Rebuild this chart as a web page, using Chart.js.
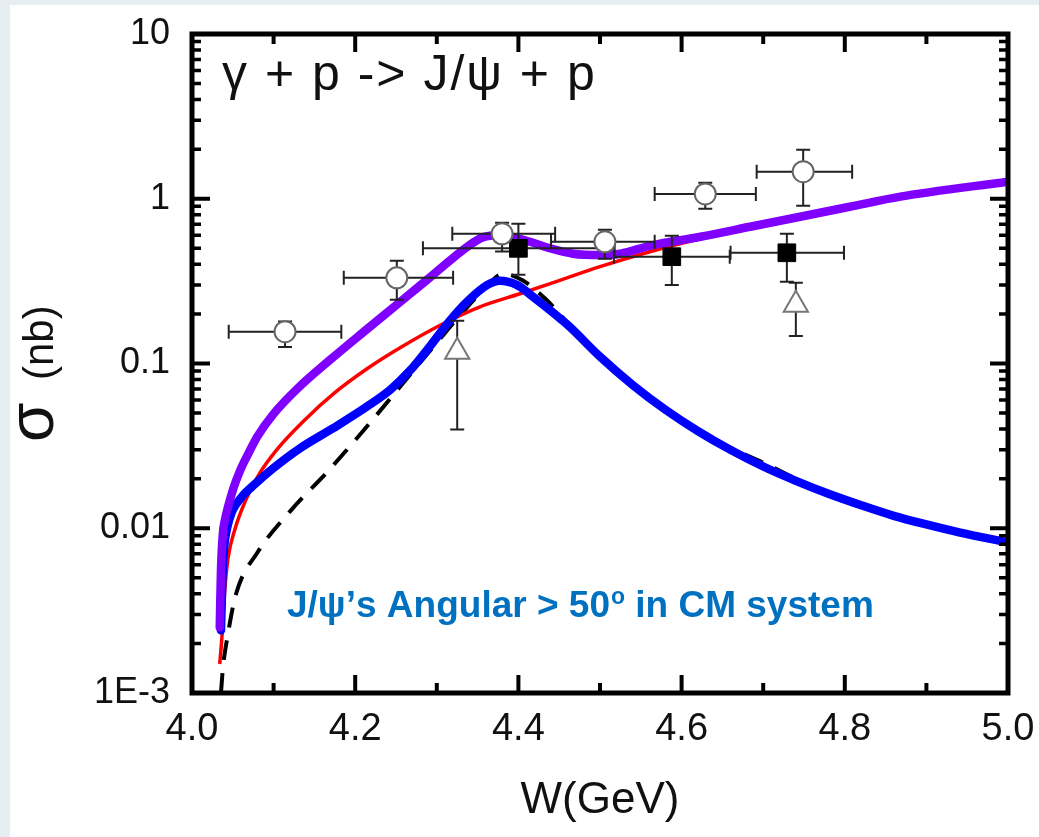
<!DOCTYPE html>
<html>
<head>
<meta charset="utf-8">
<script src="https://cdn.jsdelivr.net/npm/chart.js@4/dist/chart.umd.min.js"></script>
<style>
  html, body { margin: 0; padding: 0; background: #e7eef2; }
  #c { position: absolute; left: 0; top: 0; }
</style>
</head>
<body>
<canvas id="c" width="1039" height="837"></canvas>
<script>
// axis ticks
const xTickVals = [4.0, 4.2, 4.4, 4.6, 4.8, 5.0];
const xTickLabels = ['4.0', '4.2', '4.4', '4.6', '4.8', '5.0'];
const xMinorVals = [4.1, 4.3, 4.5, 4.7, 4.9];
const yTickVals = [0.001, 0.01, 0.1, 1, 10];
const yTickLabels = ['1E-3', '0.01', '0.1', '1', '10'];

// purple curve (total)
const purpleW = [4.034, 4.0355, 4.038, 4.04, 4.05, 4.06, 4.07, 4.08, 4.1, 4.13, 4.17, 4.21, 4.255, 4.295, 4.337, 4.357, 4.377, 4.41, 4.439, 4.467, 4.5, 4.525, 4.561, 4.623, 4.684, 4.806, 4.868, 5.0];
const purpleS = [0.0025, 0.0056, 0.0095, 0.011, 0.017, 0.023, 0.029, 0.036, 0.0495, 0.071, 0.106, 0.155, 0.236, 0.344, 0.51, 0.585, 0.60, 0.556, 0.50, 0.464, 0.455, 0.464, 0.518, 0.588, 0.676, 0.894, 1.03, 1.27];

// blue curve
const blueW = [4.0355, 4.037, 4.039, 4.043, 4.049, 4.061, 4.077, 4.098, 4.132, 4.173, 4.214, 4.243, 4.267, 4.292, 4.316, 4.337, 4.362, 4.377, 4.398, 4.418, 4.46, 4.5, 4.54, 4.58, 4.62, 4.66, 4.70, 4.74, 4.78, 4.82, 4.86, 4.90, 4.94, 5.0];
const blueS = [0.0024, 0.0045, 0.0072, 0.01, 0.0126, 0.0155, 0.0185, 0.0228, 0.0305, 0.0405, 0.0546, 0.0693, 0.0904, 0.128, 0.182, 0.237, 0.30, 0.318, 0.30, 0.254, 0.172, 0.11, 0.0741, 0.0525, 0.0389, 0.0299, 0.0237, 0.0194, 0.0162, 0.0138, 0.0119, 0.01054, 0.00944, 0.0082];

// red curve
const redW = [4.034, 4.037, 4.04, 4.044, 4.053, 4.065, 4.081, 4.105, 4.1385, 4.175, 4.2145, 4.255, 4.3076, 4.353, 4.402, 4.439, 4.5, 4.561, 4.623, 4.684, 4.75, 4.85, 5.0];
const redS = [0.0015, 0.0023, 0.0041, 0.0065, 0.01, 0.0145, 0.0208, 0.0304, 0.0456, 0.0665, 0.0929, 0.1246, 0.1743, 0.221, 0.265, 0.305, 0.387, 0.477, 0.572, 0.66, 0.77, 0.97, 1.25];

// black dashed curve
const dashW = [4.0355, 4.038, 4.0435, 4.054, 4.08, 4.121, 4.168, 4.213, 4.256, 4.295, 4.33, 4.36, 4.381, 4.405, 4.433, 4.478, 4.529, 4.581, 4.63, 4.7, 4.78, 4.86, 4.94, 5.0];
const dashS = [0.001, 0.00144, 0.0022, 0.004, 0.0071, 0.0128, 0.0226, 0.0407, 0.0733, 0.125, 0.2, 0.29, 0.35, 0.32, 0.247, 0.141, 0.0808, 0.0516, 0.0363, 0.025, 0.0162, 0.0119, 0.00944, 0.0082];

// open circles
const circW = [4.114, 4.251, 4.38, 4.506, 4.629, 4.749];
const circS = [0.156, 0.331, 0.613, 0.548, 1.07, 1.46];
const circWlo = [4.045, 4.186, 4.319, 4.44, 4.567, 4.692];
const circWhi = [4.183, 4.32, 4.445, 4.567, 4.691, 4.809];
const circSlo = [0.126, 0.244, 0.478, 0.432, 0.87, 0.908];
const circShi = [0.18, 0.421, 0.715, 0.648, 1.25, 1.98];

// filled squares
const sqW = [4.40, 4.588, 4.729];
const sqS = [0.5, 0.445, 0.47];
const sqWlo = [4.283, 4.517, 4.66];
const sqWhi = [4.518, 4.659, 4.799];
const sqSlo = [0.346, 0.30, 0.313];
const sqShi = [0.705, 0.596, 0.613];

// open triangles
const triW = [4.325, 4.74];
const triS = [0.118, 0.227];
const triSlo = [0.0398, 0.147];
const triShi = [0.182, 0.309];

const FONT = "'Liberation Sans', Arial, sans-serif";
const pts = (xs, ys) => xs.map((x, i) => ({ x: x, y: ys[i] }));

const errTable = {
  circles: { w: circW, s: circS, wlo: circWlo, whi: circWhi, slo: circSlo, shi: circShi },
  squares: { w: sqW, s: sqS, wlo: sqWlo, whi: sqWhi, slo: sqSlo, shi: sqShi },
  triangles: { w: triW, s: triS, wlo: null, whi: null, slo: triSlo, shi: triShi }
};

const background = {
  id: 'background',
  beforeDraw(chart) {
    const ctx = chart.ctx;
    ctx.save();
    ctx.fillStyle = '#e7eef2';
    ctx.fillRect(0, 0, chart.width, chart.height);
    ctx.fillStyle = '#ffffff';
    ctx.fillRect(10, 5, chart.width - 10, chart.height - 5);
    ctx.restore();
  }
};

const errorBars = {
  id: 'errorBars',
  beforeDatasetDraw(chart, args) {
    const e = errTable[chart.data.datasets[args.index].label];
    if (!e) return;
    const { ctx, scales: { x, y } } = chart;
    const cap = 7;
    ctx.save();
    ctx.strokeStyle = '#222';
    ctx.lineWidth = 2;
    ctx.beginPath();
    e.w.forEach((w, i) => {
      const px = x.getPixelForValue(w);
      const py = y.getPixelForValue(e.s[i]);
      const y1 = y.getPixelForValue(e.shi[i]);
      const y2 = y.getPixelForValue(e.slo[i]);
      ctx.moveTo(px, y1); ctx.lineTo(px, y2);
      ctx.moveTo(px - cap, y1); ctx.lineTo(px + cap, y1);
      ctx.moveTo(px - cap, y2); ctx.lineTo(px + cap, y2);
      if (e.wlo) {
        const x1 = x.getPixelForValue(e.wlo[i]);
        const x2 = x.getPixelForValue(e.whi[i]);
        ctx.moveTo(x1, py); ctx.lineTo(x2, py);
        ctx.moveTo(x1, py - cap); ctx.lineTo(x1, py + cap);
        ctx.moveTo(x2, py - cap); ctx.lineTo(x2, py + cap);
      }
    });
    ctx.stroke();
    ctx.restore();
  }
};

const frameTicks = {
  id: 'frameTicks',
  afterDraw(chart) {
    const { ctx, chartArea: a, scales: { x, y } } = chart;
    const seg = (x1, y1, x2, y2) => { ctx.moveTo(x1, y1); ctx.lineTo(x2, y2); };
    ctx.save();
    ctx.strokeStyle = '#000';
    ctx.lineWidth = 4;
    ctx.beginPath();
    xTickVals.forEach(v => {
      const px = x.getPixelForValue(v);
      seg(px, a.bottom, px, a.bottom - 18);
      seg(px, a.top, px, a.top + 18);
    });
    xMinorVals.forEach(v => {
      const px = x.getPixelForValue(v);
      seg(px, a.bottom, px, a.bottom - 10);
      seg(px, a.top, px, a.top + 10);
    });
    yTickVals.forEach(v => {
      const py = y.getPixelForValue(v);
      seg(a.left, py, a.left + 18, py);
      seg(a.right, py, a.right - 18, py);
    });
    ctx.stroke();
    ctx.lineWidth = 3.5;
    ctx.beginPath();
    yTickVals.slice(0, -1).forEach(d => {
      for (let m = 2; m <= 9; m++) {
        const py = y.getPixelForValue(d * m);
        seg(a.left, py, a.left + 9, py);
        seg(a.right, py, a.right - 9, py);
      }
    });
    ctx.stroke();
    ctx.lineWidth = 5;
    ctx.strokeRect(a.left, a.top, a.right - a.left, a.bottom - a.top);
    ctx.restore();
  }
};

const labels = {
  id: 'labels',
  afterDraw(chart) {
    const ctx = chart.ctx;
    ctx.save();
    ctx.fillStyle = '#111';
    ctx.textBaseline = 'alphabetic';
    ctx.textAlign = 'left';
    ctx.font = '50px ' + FONT;
    ctx.letterSpacing = '2px';
    ctx.fillText('γ + p -> J/ψ + p', 222, 90);
    ctx.letterSpacing = '0px';

    // y-axis title, rotated
    ctx.save();
    ctx.translate(53, 442);
    ctx.rotate(-Math.PI / 2);
    ctx.font = '64px ' + FONT;
    ctx.fillText('σ', 0, 0);
    ctx.font = '42px ' + FONT;
    ctx.fillText('(nb)', 62, 0);
    ctx.restore();

    // blue note with superscript degree
    ctx.fillStyle = '#0070c0';
    let xx = 287;
    const base = 617;
    ctx.font = 'bold 37px ' + FONT;
    const a1 = 'J/ψ’s Angular > 50';
    ctx.fillText(a1, xx, base);
    xx += ctx.measureText(a1).width;
    ctx.font = 'bold 23px ' + FONT;
    ctx.fillText('o', xx + 1, base - 13);
    xx += ctx.measureText('o').width + 1;
    ctx.font = 'bold 37px ' + FONT;
    ctx.fillText(' in CM system', xx, base);
    ctx.restore();
  }
};

new Chart(document.getElementById('c'), {
  type: 'scatter',
  data: {
    datasets: [
      { label: 'circles', data: pts(circW, circS), pointStyle: 'circle', pointRadius: 10.5,
        backgroundColor: '#ffffff', borderColor: '#666', borderWidth: 2 },
      { label: 'squares', data: pts(sqW, sqS), pointStyle: 'rect', pointRadius: 12.5,
        backgroundColor: '#000', borderColor: '#000', borderWidth: 1 },
      { label: 'triangles', data: pts(triW, triS), pointStyle: 'triangle', pointRadius: 14,
        backgroundColor: '#ffffff', borderColor: '#777', borderWidth: 2 },
      { label: 'purple', data: pts(purpleW, purpleS), showLine: true, pointRadius: 0,
        borderColor: '#7f00ff', borderWidth: 8.5, cubicInterpolationMode: 'monotone', borderCapStyle: 'round' },
      { label: 'blue', data: pts(blueW, blueS), showLine: true, pointRadius: 0,
        borderColor: '#0000ff', borderWidth: 8.5, cubicInterpolationMode: 'monotone', borderCapStyle: 'round' },
      { label: 'red', data: pts(redW, redS), showLine: true, pointRadius: 0,
        borderColor: '#ff0000', borderWidth: 3.5, cubicInterpolationMode: 'monotone' },
      { label: 'dashed', data: pts(dashW, dashS), showLine: true, pointRadius: 0,
        borderColor: '#000', borderWidth: 4, borderDash: [20, 13], cubicInterpolationMode: 'monotone' }
    ]
  },
  options: {
    responsive: false,
    animation: false,
    layout: { padding: { top: 34, right: 31, left: 0, bottom: 0 } },
    plugins: { legend: { display: false }, tooltip: { enabled: false } },
    scales: {
      x: {
        type: 'linear', min: 4, max: 5,
        grid: { display: false, drawTicks: false },
        border: { display: false },
        afterBuildTicks: s => { s.ticks = xTickVals.map(v => ({ value: v })); },
        afterFit: s => { s.height = 144; s.paddingLeft = 0; s.paddingRight = 0; },
        ticks: {
          autoSkip: false, maxRotation: 0, padding: 14, color: '#111',
          font: { family: FONT, size: 38 },
          callback: (v, i) => xTickLabels[i]
        },
        title: { display: true, text: 'W(GeV)', color: '#111', font: { family: FONT, size: 44 }, padding: { top: 0, bottom: 10 } }
      },
      y: {
        type: 'logarithmic', min: 0.001, max: 10,
        grid: { display: false, drawTicks: false },
        border: { display: false },
        afterBuildTicks: s => { s.ticks = yTickVals.map(v => ({ value: v })); },
        afterFit: s => { s.width = 192; s.paddingTop = 0; s.paddingBottom = 0; },
        ticks: {
          autoSkip: false, padding: 22, color: '#111',
          font: { family: FONT, size: 36 },
          callback: (v, i) => yTickLabels[i]
        }
      }
    }
  },
  plugins: [background, errorBars, frameTicks, labels]
});
</script>
</body>
</html>
